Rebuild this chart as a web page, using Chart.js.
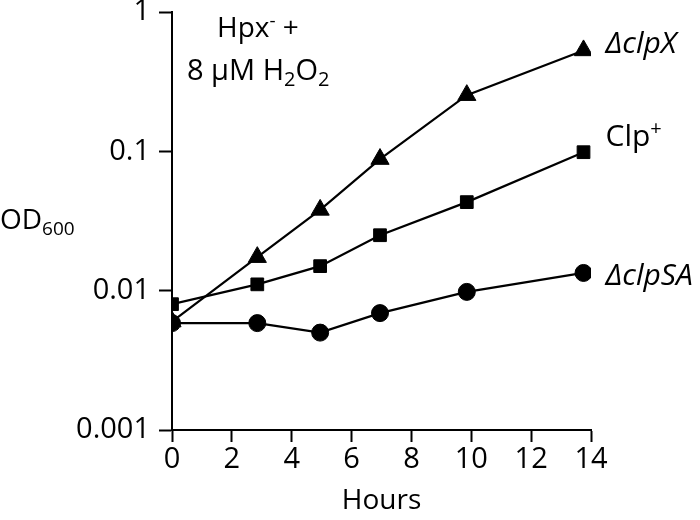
<!DOCTYPE html>
<html>
<head>
<meta charset="utf-8">
<script src="https://cdn.jsdelivr.net/npm/chart.js@4.4.1/dist/chart.umd.min.js"></script>
<style>
  html, body { margin: 0; padding: 0; background: #fff; }
</style>
</head>
<body>
<canvas id="myChart" width="700" height="520"></canvas>
<script>
// data
const hours = [0, 2.85, 4.95, 6.95, 9.85, 13.75];
const clpX = [0.006, 0.0174, 0.038, 0.088, 0.253, 0.53];
const clpPlus = [0.008, 0.0111, 0.015, 0.025, 0.0432, 0.0986];
const clpSA = [0.00585, 0.00585, 0.005, 0.0069, 0.0098, 0.0134];
const yTicks = [0.001, 0.01, 0.1, 1];
const xMin = 0, xMax = 14, xStep = 2;

const FONT = "'Open Sans', sans-serif";
const SIZE = 28;
const TICK_SIZE = 29;
const LABEL_SIZE = 30;

function pts(ys) {
  return ys.map((y, i) => ({ x: hours[i], y: y }));
}

// draws text with sub / superscripts
function drawRich(ctx, x, y, parts, size) {
  parts.forEach((p) => {
    const s = p.sub || p.sup ? Math.round(size * 0.68) : size;
    ctx.font = (p.italic ? "italic " : "") + s + "px " + FONT;
    const dy = p.sub ? size * 0.2 : p.sup ? -size * 0.36 : 0;
    ctx.fillText(p.t, x, y + dy);
    x += ctx.measureText(p.t).width;
  });
}

const seriesLabels = [
  [{ t: "\u0394clpSA", italic: true }],
  [{ t: "Clp" }, { t: "+", sup: true }],
  [{ t: "\u0394clpX", italic: true }],
];
const labelDy = [12, -6, 3];

const textPlugin = {
  id: "textPlugin",
  afterDraw(chart) {
    const ctx = chart.ctx;
    ctx.save();
    ctx.fillStyle = "#000";
    ctx.textBaseline = "alphabetic";
    ctx.textAlign = "left";

    // y axis title
    drawRich(ctx, 0, 229, [{ t: "OD" }, { t: "600", sub: true }], SIZE);

    // condition label
    drawRich(ctx, 217, 37, [{ t: "Hpx" }, { t: "-", sup: true }, { t: " +" }], SIZE);
    drawRich(ctx, 187, 80, [{ t: "8 \u03bcM H" }, { t: "2", sub: true }, { t: "O" }, { t: "2", sub: true }], 29);

    // series labels next to last points
    chart.data.datasets.forEach((ds, i) => {
      const meta = chart.getDatasetMeta(i);
      const last = meta.data[meta.data.length - 1];
      drawRich(ctx, last.x + 22, last.y + labelDy[i], seriesLabels[i], LABEL_SIZE);
    });
    ctx.restore();
  },
};

const ctx = document.getElementById("myChart");

new Chart(ctx, {
  type: "line",
  data: {
    datasets: [
      {
        label: "ΔclpSA",
        data: pts(clpSA),
        pointStyle: "circle",
        pointRadius: 8.5,
      },
      {
        label: "Clp+",
        data: pts(clpPlus),
        pointStyle: "rect",
        pointRadius: 9,
      },
      {
        label: "ΔclpX",
        data: pts(clpX),
        pointStyle: "triangle",
        pointRadius: 10.5,
      },
    ].map((d) => ({
      ...d,
      borderColor: "#000",
      borderWidth: 2.2,
      backgroundColor: "#000",
      pointBackgroundColor: "#000",
      pointBorderColor: "#000",
      pointBorderWidth: 1,
      tension: 0,
      fill: false,
    })),
  },
  options: {
    responsive: false,
    animation: false,
    layout: {
      padding: { left: 0, top: 12, right: 109, bottom: 0 },
    },
    scales: {
      x: {
        type: "linear",
        min: xMin,
        max: xMax,
        afterFit: (s) => {
          s.height = 90;
          s.paddingLeft = 0;
          s.paddingRight = 0;
        },
        ticks: {
          stepSize: xStep,
          color: "#000",
          padding: 0,
          font: { family: FONT, size: TICK_SIZE },
        },
        grid: {
          drawOnChartArea: false,
          drawTicks: true,
          tickLength: 12,
          tickColor: "#000",
          tickWidth: 2,
        },
        border: { display: true, color: "#000", width: 2 },
        title: {
          display: true,
          text: "Hours",
          color: "#000",
          font: { family: FONT, size: SIZE },
          padding: { top: 0, bottom: 2 },
        },
      },
      y: {
        type: "logarithmic",
        min: yTicks[0],
        max: yTicks[yTicks.length - 1],
        afterBuildTicks: (s) => {
          s.ticks = yTicks.map((v) => ({ value: v }));
        },
        afterFit: (s) => {
          s.width = 172;
          s.paddingTop = 0;
          s.paddingBottom = 0;
        },
        ticks: {
          color: "#000",
          padding: 9,
          font: { family: FONT, size: TICK_SIZE },
          callback: (v) => String(v),
        },
        grid: {
          drawOnChartArea: false,
          drawTicks: true,
          tickLength: 13,
          tickColor: "#000",
          tickWidth: 2,
        },
        border: { display: true, color: "#000", width: 2 },
      },
    },
    plugins: {
      legend: { display: false },
      tooltip: { enabled: false },
    },
  },
  plugins: [textPlugin],
});
</script>
</body>
</html>
